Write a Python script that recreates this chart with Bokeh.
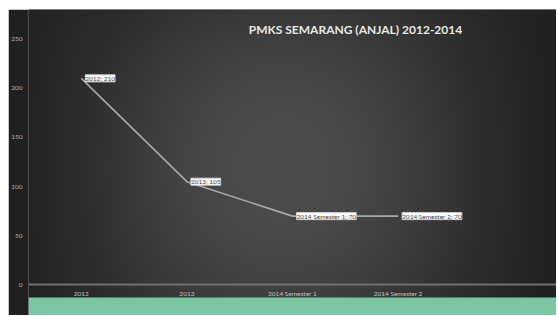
import numpy as np
from bokeh.plotting import figure
from bokeh.models import ColumnDataSource, LabelSet, Label, FactorRange, Range1d, FixedTicker
from bokeh.core.properties import value
from bokeh.embed import file_html
from bokeh.resources import INLINE

# ---- data ----
categories = ["2012", "2013", "2014 Semester 1", "2014 Semester 2"]
values = [210, 105, 70, 70]
y_ticks = [0, 50, 100, 150, 200, 250]
title_text = "PMKS SEMARANG (ANJAL) 2012-2014"

labels = [f"{c}; {v}" for c, v in zip(categories, values)]
source = ColumnDataSource(dict(cat=categories, val=values, label=labels))

W, H = 548, 306
LEFT = 19
y_lo, y_hi = -31.0, 280.0

p = figure(width=W, height=H, output_backend="svg", toolbar_location=None,
           x_range=FactorRange(*(categories + [" "]), range_padding=0),
           y_range=Range1d(y_lo, y_hi),
           min_border_left=LEFT, min_border_right=0, min_border_top=0, min_border_bottom=0)
p.margin = (9, 0, 0, 8)
p.outline_line_color = None
p.border_fill_color = "#202020"
p.background_fill_color = "#333333"

# background gradient (decoration), page coords: frame spans x 27..556, y 9..315
fw, fh = W - LEFT, H
img = np.empty((fh, fw), dtype=np.uint32)
view = img.view(dtype=np.uint8).reshape((fh, fw, 4))
px = 27 + (np.arange(fw) + 0.5)
py = 315 - (np.arange(fh) + 0.5)
PX, PY = np.meshgrid(px, py)
t = np.clip((PX - 7) / 549.0, 0, 1)
s = np.clip((PY - 9) / 288.0, 0, 1)
h = np.sin(np.pi * t) ** 1.3
vf = 1 - 0.45 * ((s - 0.55) / 0.55) ** 2
v = (32 + 44 * h * vf).astype(np.uint8)
view[:, :, 0] = v
view[:, :, 1] = v
view[:, :, 2] = v
view[:, :, 3] = 255
green = PY >= 297.5
view[green, 0] = 123
view[green, 1] = 199
view[green, 2] = 163
p.image_rgba(image=[img], x=0, y=y_lo, dw=5, dh=y_hi - y_lo)

# axes
p.yaxis.ticker = FixedTicker(ticks=y_ticks)
p.yaxis.axis_line_color = None
p.yaxis.major_tick_line_color = None
p.yaxis.minor_tick_line_color = None
p.yaxis.major_tick_out = 0
p.yaxis.major_tick_in = 0
p.yaxis.minor_tick_out = 0
p.yaxis.major_label_text_font = "Lato"
p.yaxis.major_label_text_font_size = "6.5px"
p.yaxis.major_label_text_color = "#b4b4b4"
p.yaxis.major_label_standoff = 6

p.xaxis.fixed_location = 0
p.xaxis.axis_line_color = "#707070"
p.xaxis.axis_line_width = 2
p.xaxis.major_tick_line_color = None
p.xaxis.minor_tick_line_color = None
p.xaxis.major_tick_out = 0
p.xaxis.major_tick_in = 0
p.xaxis.minor_tick_out = 0
p.xaxis.major_label_text_font = "Lato"
p.xaxis.major_label_text_font_size = "6.5px"
p.xaxis.major_label_text_color = "#c0c0c0"
p.xaxis.major_label_standoff = 5

p.xgrid.grid_line_color = None
p.ygrid.grid_line_color = "#575757"
p.ygrid.grid_line_width = 1

# series
p.line(x="cat", y="val", source=source, line_color="#a8a8a8", line_width=1.6)

ls_kwargs = dict(x="cat", y="val", text="label", source=source,
                 x_offset=4, text_baseline="middle", text_align="left",
                 text_font=value("Lato"), text_font_size=value("6.5px"), text_color="#404040",
                 background_fill_color="white", border_line_color="#d0d0d0")
if "padding" in LabelSet.properties():
    ls_kwargs["padding"] = 2
p.add_layout(LabelSet(**ls_kwargs))

p.add_layout(Label(x=327, y=286, x_units="screen", y_units="screen", text=title_text,
                   text_align="center", text_baseline="middle", text_font="Lato",
                   text_font_style="bold", text_font_size="12px", text_color="#e8e8e8"))

open("out.html", "w").write(file_html(p, INLINE))
